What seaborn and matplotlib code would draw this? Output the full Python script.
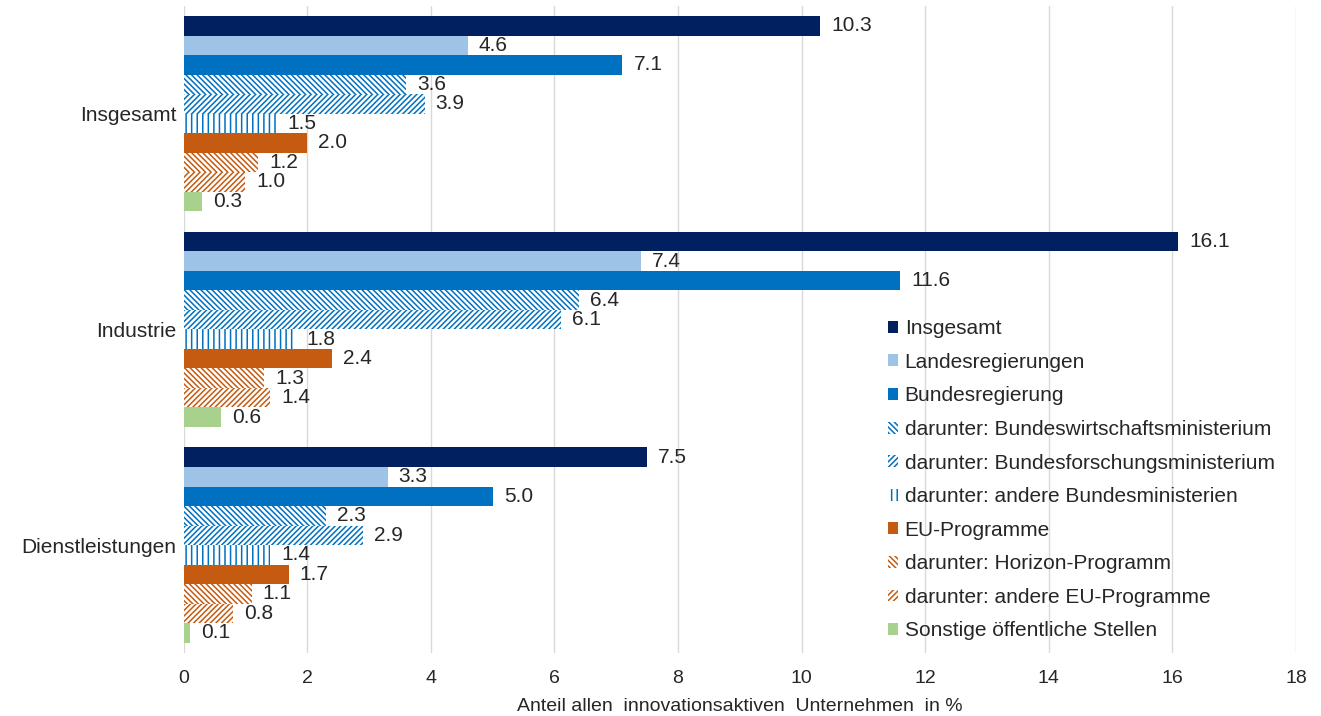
import matplotlib.pyplot as plt
import seaborn as sns
import pandas as pd

groups = ['Insgesamt', 'Industrie', 'Dienstleistungen']
sources = ['Insgesamt', 'Landesregierungen', 'Bundesregierung',
           'darunter: Bundeswirtschaftsministerium',
           'darunter: Bundesforschungsministerium',
           'darunter: andere Bundesministerien',
           'EU-Programme', 'darunter: Horizon-Programm',
           'darunter: andere EU-Programme', 'Sonstige öffentliche Stellen']
insgesamt = [10.3, 4.6, 7.1, 3.6, 3.9, 1.5, 2.0, 1.2, 1.0, 0.3]
industrie = [16.1, 7.4, 11.6, 6.4, 6.1, 1.8, 2.4, 1.3, 1.4, 0.6]
dienstleistungen = [7.5, 3.3, 5.0, 2.3, 2.9, 1.4, 1.7, 1.1, 0.8, 0.1]

colors = ['#002060', '#9dc3e6', '#0070c0', '#0070c0', '#0070c0', '#0070c0',
          '#c55a11', '#c55a11', '#c55a11', '#a9d18e']
hatches = [None, None, None, '\\\\\\\\\\\\', '//////', '|||', None,
           '\\\\\\\\\\\\', '//////', None]

rows = []
for g, vals in zip(groups, [insgesamt, industrie, dienstleistungen]):
    for s, v in zip(sources, vals):
        rows.append({'Gruppe': g, 'Quelle': s, 'Wert': v})
df = pd.DataFrame(rows)

sns.set_style('whitegrid')
plt.rcParams['font.family'] = ['Liberation Sans', 'DejaVu Sans']
plt.rcParams['hatch.linewidth'] = 1.1

fig = plt.figure(figsize=(13.21, 7.16), dpi=100)
ax = fig.add_axes([0.139, 0.088, 0.842, 0.904])
sns.barplot(data=df, x='Wert', y='Gruppe', hue='Quelle', order=groups,
            hue_order=sources, palette=colors, orient='h', width=0.905,
            saturation=1, legend=False, ax=ax)

for cont, col, h in zip(ax.containers, colors, hatches):
    for bar in cont:
        bar.set_linewidth(0)
        if h:
            bar.set_facecolor('white')
            bar.set_edgecolor(col)
            bar.set_hatch(h)
    ax.bar_label(cont, fmt='%.1f', padding=8, fontsize=15, color='#262626')

ax.set_xlim(0, 18)
ax.set_xticks(range(0, 19, 2))
ax.set_xlabel('Anteil allen  innovationsaktiven  Unternehmen  in %', fontsize=14,
              color='#262626', labelpad=8)
ax.set_ylabel('')
ax.tick_params(axis='x', labelsize=14, length=0, colors='#262626', pad=12)
ax.tick_params(axis='y', labelsize=15, length=0, colors='#262626', pad=5)
ax.grid(axis='y', visible=False)
ax.grid(axis='x', color='#d9d9d9', linewidth=1)
for sp in ax.spines.values():
    sp.set_visible(False)

handles = [cont[0] for cont in ax.containers]
ax.legend(handles, sources, loc='lower left', bbox_to_anchor=(0.622, 0.0),
          frameon=False, fontsize=15, handlelength=0.5, handleheight=0.5,
          handletextpad=0.3, labelspacing=0.7, borderaxespad=0.2)

fig.savefig('out.png', dpi=100)
